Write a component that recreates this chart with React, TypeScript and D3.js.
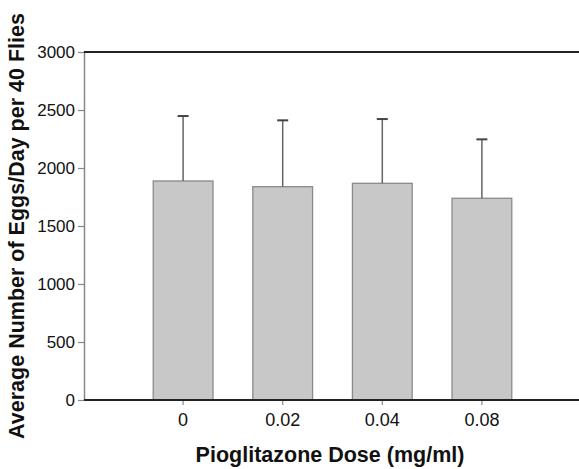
import React, { useEffect, useRef } from 'react';
import * as d3 from 'd3';

// Data
const doses = ['0', '0.02', '0.04', '0.08'];
const meanEggs = [1888, 1839, 1868, 1739];
const sdEggs = [560, 572, 554, 508];
const yTicks = [0, 500, 1000, 1500, 2000, 2500, 3000];

const App = () => {
  const svgRef = useRef<SVGSVGElement>(null);

  useEffect(() => {
    const width = 579;
    const height = 469;
    const marginTop = 52;
    const marginLeft = 84;
    const marginBottom = 69;
    const font = "'Liberation Sans', Arial, sans-serif";

    const svg = d3.select(svgRef.current);
    svg.selectAll('*').remove();
    svg.attr('width', width).attr('height', height).style('font-family', font);

    // --- Scales ---
    const x = d3.scaleBand<string>()
      .domain(doses)
      .range([86, width])
      .paddingInner(0.4)
      .paddingOuter(0.675)
      .align(0.5);

    const y = d3.scaleLinear()
      .domain([0, 3000])
      .range([height - marginBottom, marginTop]);

    const rows = doses.map((d, i) => ({ dose: d, mean: meanEggs[i], sd: sdEggs[i] }));

    // --- Bars ---
    svg.append('g')
      .selectAll('rect')
      .data(rows)
      .join('rect')
      .attr('x', d => x(d.dose)!)
      .attr('y', d => y(d.mean))
      .attr('width', x.bandwidth())
      .attr('height', d => y(0) - y(d.mean))
      .attr('fill', '#c8c8c8')
      .attr('stroke', '#8a8a8a')
      .attr('stroke-width', 1.3);

    // --- Error bars (upper only) ---
    const err = svg.append('g').attr('stroke', '#666').attr('stroke-width', 1.5);
    rows.forEach(d => {
      const cx = x(d.dose)! + x.bandwidth() / 2;
      err.append('line')
        .attr('x1', cx).attr('x2', cx)
        .attr('y1', y(d.mean)).attr('y2', y(d.mean + d.sd));
      err.append('line')
        .attr('x1', cx - 5.5).attr('x2', cx + 5.5)
        .attr('y1', y(d.mean + d.sd)).attr('y2', y(d.mean + d.sd))
        .attr('stroke', '#444').attr('stroke-width', 2);
    });

    // --- Y axis ---
    const yAxis = svg.append('g')
      .attr('transform', `translate(${marginLeft},0)`)
      .call(d3.axisLeft(y).tickValues(yTicks).tickFormat(d3.format('d')).tickSize(6).tickPadding(3).tickSizeOuter(0));
    yAxis.select('.domain').attr('stroke', '#888').attr('stroke-width', 1.5);
    yAxis.selectAll('.tick line').attr('stroke', '#888').attr('stroke-width', 1.2);
    yAxis.selectAll('.tick text')
      .attr('fill', '#111')
      .attr('font-size', 17)
      .attr('font-family', font);

    // --- X axis ---
    const xAxis = svg.append('g')
      .attr('transform', `translate(0,${y(0)})`)
      .call(d3.axisBottom(x).tickSize(5).tickPadding(8).tickSizeOuter(0));
    xAxis.select('.domain').remove();
    xAxis.selectAll('.tick line').attr('stroke', '#888').attr('stroke-width', 1.2);
    xAxis.selectAll('.tick text')
      .attr('fill', '#111')
      .attr('font-size', 18)
      .attr('font-family', font);

    // Frame lines: top and bottom dark rules
    svg.append('line')
      .attr('x1', marginLeft).attr('x2', width)
      .attr('y1', y(3000)).attr('y2', y(3000))
      .attr('stroke', '#222').attr('stroke-width', 2);
    svg.append('line')
      .attr('x1', marginLeft).attr('x2', width)
      .attr('y1', y(0)).attr('y2', y(0))
      .attr('stroke', '#222').attr('stroke-width', 2);

    // --- Axis titles ---
    svg.append('text')
      .attr('x', 330)
      .attr('y', 462)
      .attr('text-anchor', 'middle')
      .attr('fill', '#111')
      .attr('font-size', 21.5)
      .attr('font-weight', 'bold')
      .text('Pioglitazone Dose (mg/ml)');

    svg.append('text')
      .attr('transform', 'translate(24,226) rotate(-90)')
      .attr('text-anchor', 'middle')
      .attr('fill', '#111')
      .attr('font-size', 21.5)
      .attr('font-weight', 'bold')
      .text('Average Number of Eggs/Day per 40 Flies');
  }, []);

  return (
    <svg ref={svgRef} style={{ position: 'absolute', left: 0, top: 0, background: '#fff' }} />
  );
};

export default App;
